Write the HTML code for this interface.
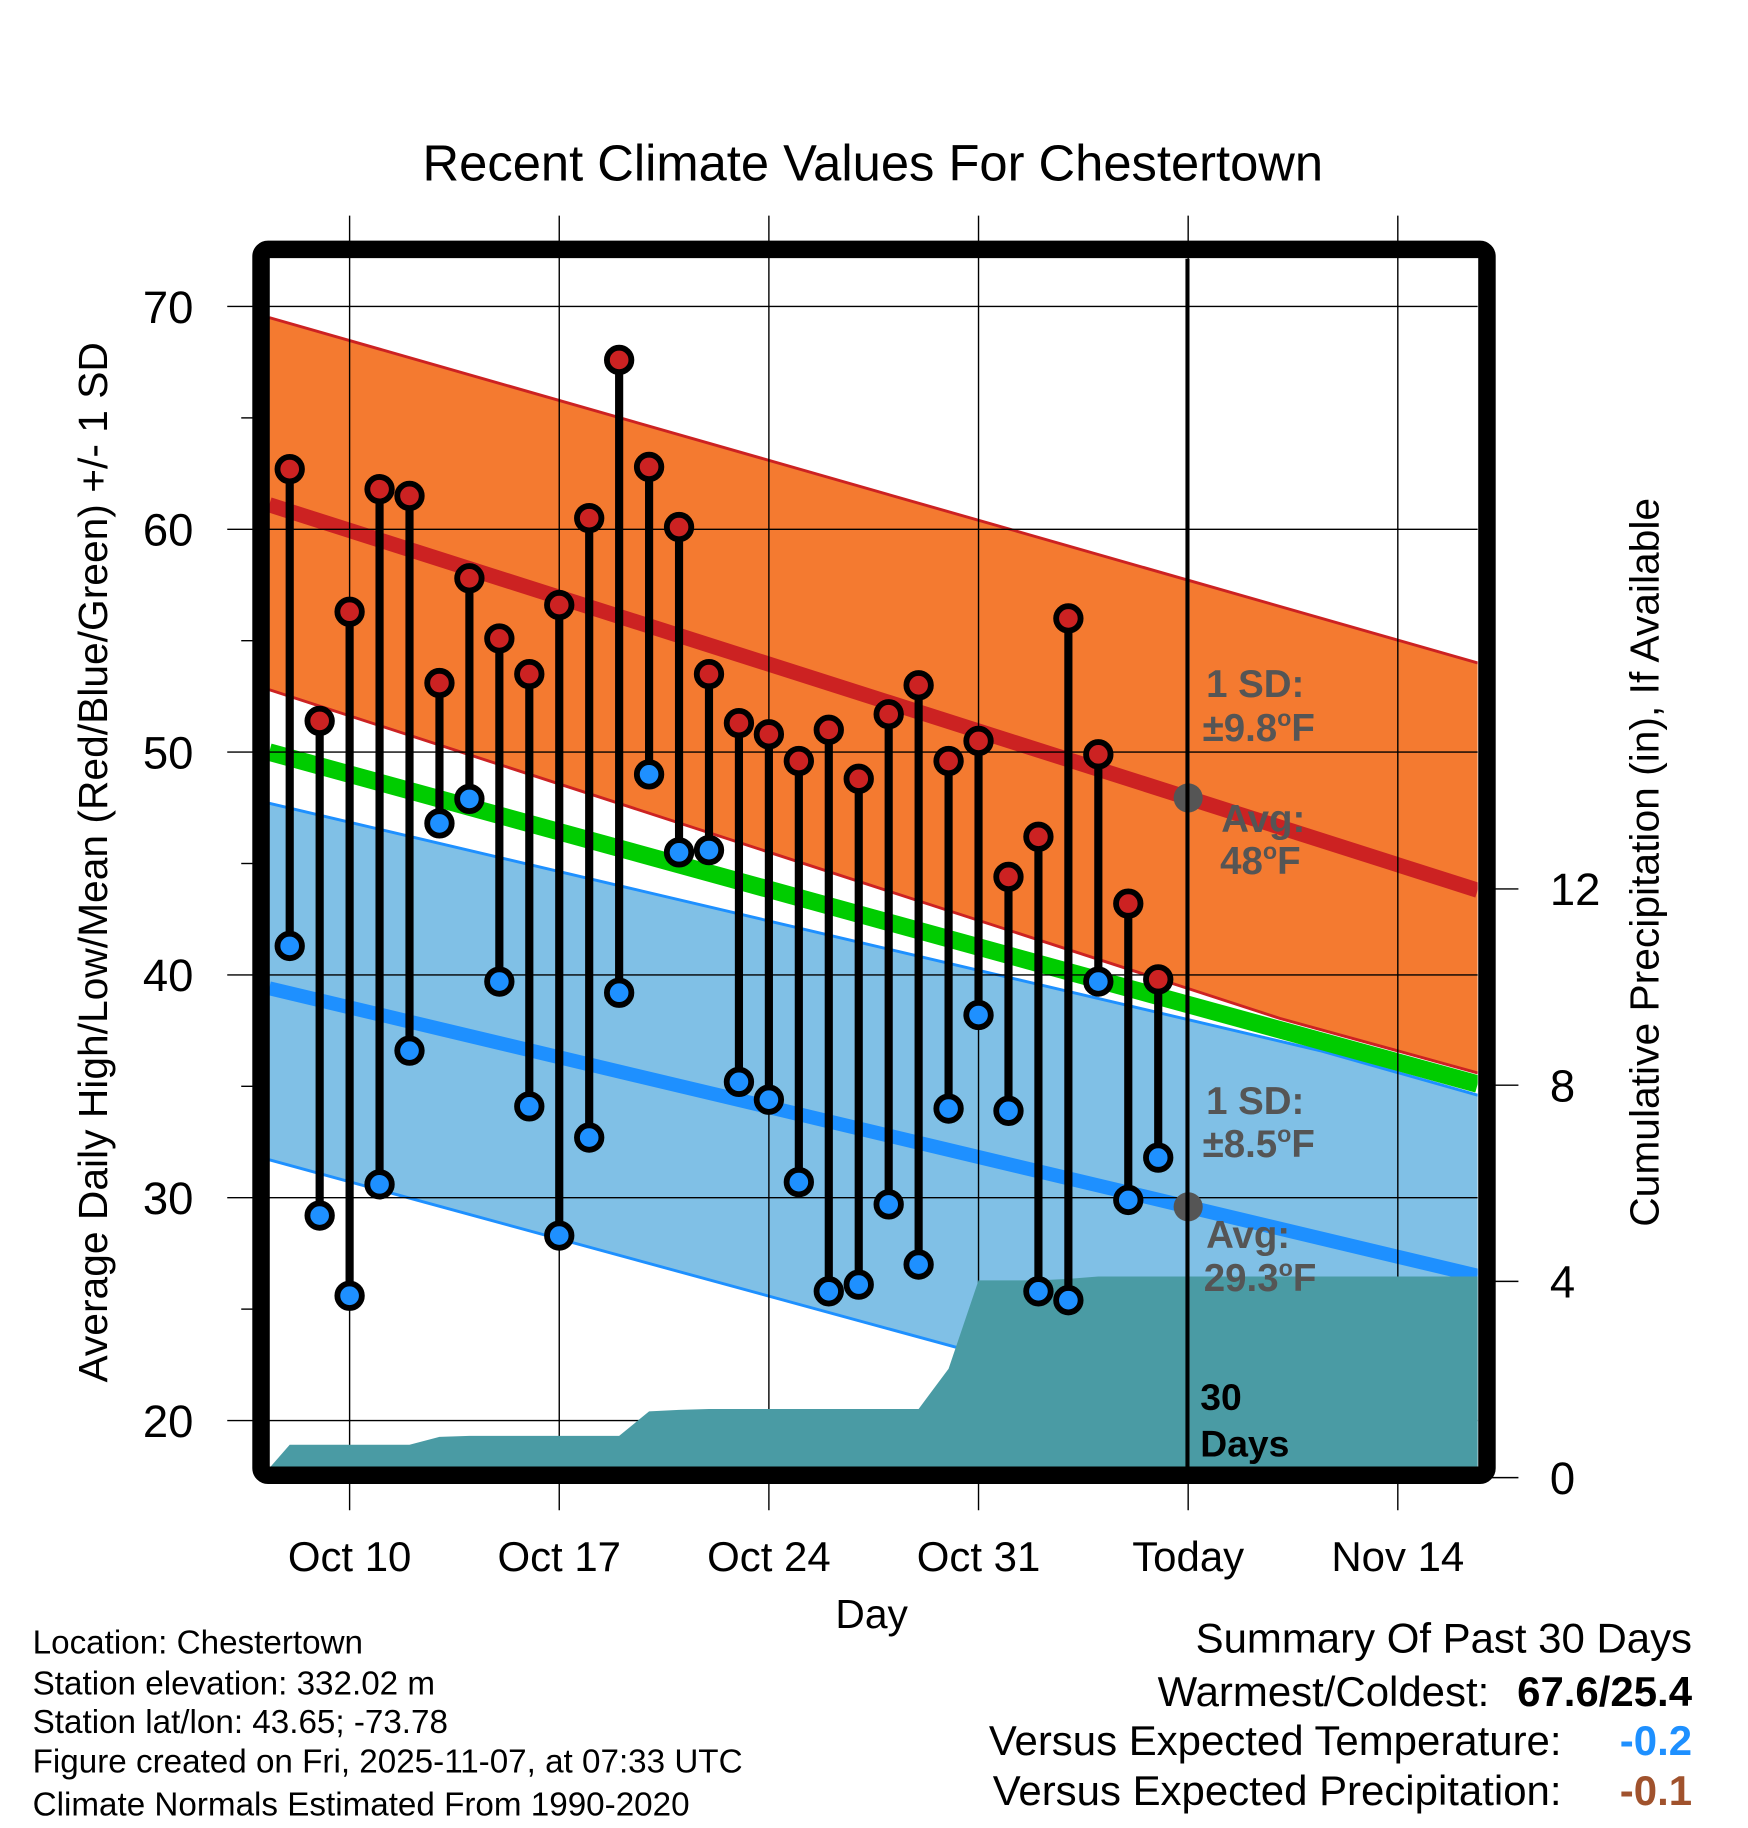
<!DOCTYPE html>
<html><head><meta charset="utf-8"><style>
html,body{margin:0;padding:0;background:#fff;}
svg{display:block;font-family:"Liberation Sans",Arial,sans-serif;}
</style></head><body>
<svg id="chart" width="1748" height="1828" viewBox="0 0 1500 1568.67" xmlns="http://www.w3.org/2000/svg">
<defs><clipPath id="plotclip"><rect x="231" y="222" width="1037" height="1038"/></clipPath></defs>
<g id="bands" clip-path="url(#plotclip)"></g>
<g id="grid"></g>
<g id="precip"></g>
<g id="lines"></g>
<line x1="1019" y1="222" x2="1019" y2="1262" stroke="#000" stroke-width="3.5"/>
<g id="marks"></g>
<rect x="224" y="214" width="1052" height="1052" rx="6" fill="none" stroke="#000" stroke-width="15"/>
<g id="axes"></g>
<text x="749" y="155" font-size="43.5" text-anchor="middle">Recent Climate Values For Chestertown</text>
<text x="748" y="1397" font-size="35" text-anchor="middle">Day</text>
<text transform="translate(92,740) rotate(-90)" font-size="35" text-anchor="middle">Average Daily High/Low/Mean (Red/Blue/Green) +/- 1 SD</text>
<text transform="translate(1423,740) rotate(-90)" font-size="35" text-anchor="middle">Cumulative Precipitation (in), If Available</text>
<g font-size="33" font-weight="bold" fill="#555">
<text x="1035" y="598">1 SD:</text>
<text x="1032" y="636">±9.8<tspan font-size="20" dy="-13">o</tspan><tspan dy="13">F</tspan></text>
<text x="1048" y="714">Avg:</text>
<text x="1047" y="750">48<tspan font-size="20" dy="-13">o</tspan><tspan dy="13">F</tspan></text>
<text x="1035" y="956">1 SD:</text>
<text x="1032" y="993">±8.5<tspan font-size="20" dy="-13">o</tspan><tspan dy="13">F</tspan></text>
<text x="1035" y="1071">Avg:</text>
<text x="1033" y="1108">29.3<tspan font-size="20" dy="-13">o</tspan><tspan dy="13">F</tspan></text>
</g>
<g font-size="32" font-weight="bold" fill="#000">
<text x="1030" y="1210">30</text><text x="1030" y="1250">Days</text>
</g>
<g font-size="28.5">
<text x="28" y="1419">Location: Chestertown</text>
<text x="28" y="1454">Station elevation: 332.02 m</text>
<text x="28" y="1487">Station lat/lon: 43.65; -73.78</text>
<text x="28" y="1521">Figure created on Fri, 2025-11-07, at 07:33 UTC</text>
<text x="28" y="1558">Climate Normals Estimated From 1990-2020</text>
</g>
<g font-size="36">
<text x="1452" y="1418" text-anchor="end">Summary Of Past 30 Days</text>
<text x="1278" y="1464" text-anchor="end">Warmest/Coldest:</text>
<text x="1452" y="1464" text-anchor="end" font-weight="bold">67.6/25.4</text>
<text x="1340" y="1506" text-anchor="end">Versus Expected Temperature:</text>
<text x="1452" y="1506" text-anchor="end" font-weight="bold" fill="#1e90ff">-0.2</text>
<text x="1340" y="1549" text-anchor="end">Versus Expected Precipitation:</text>
<text x="1452" y="1549" text-anchor="end" font-weight="bold" fill="#a0522d">-0.1</text>
</g>
</svg>
<script>
const highs=[62.7,51.4,56.3,61.8,61.5,53.1,57.8,55.1,53.5,56.6,60.5,67.6,62.8,60.1,53.5,51.3,50.8,49.6,51.0,48.8,51.7,53.0,49.6,50.5,44.4,46.2,56.0,49.9,43.2,39.8];
const lows=[41.3,29.2,25.6,30.6,36.6,46.8,47.9,39.7,34.1,28.3,32.7,39.2,49.0,45.5,45.6,35.2,34.4,30.7,25.8,26.1,29.7,27.0,34.0,38.2,33.9,25.8,25.4,39.7,29.9,31.8];
const precipCum=[0.67,0.67,0.67,0.67,0.67,0.83,0.85,0.85,0.85,0.85,0.85,0.85,1.35,1.38,1.40,1.40,1.40,1.40,1.40,1.40,1.40,1.40,2.22,4.02,4.02,4.02,4.05,4.10,4.10,4.10];
// normals: [value at left edge, value at right edge]
const normHigh=[61.1,43.8], normHighUp=[69.5,54.0];
const normLow=[39.4,26.5], normLowLo=[31.7,16.9];
const normMean=[50.0,35.1];
// inner band edges meet the mean line: [left, bend, right] at days bendDays
const normHighLo=[52.8,38.05,35.6], highLoDays=[-2.68,31.06,37.67];
const normLowUp=[47.7,36.6,34.6], lowUpDays=[-2.68,32.4,37.67];
const xTickLabels=["Oct 10","Oct 17","Oct 24","Oct 31","Today","Nov 14"];
const xTickDays=[0,7,14,21,28,35];
const yTicks=[70,60,50,40,30,20];
const y2Ticks=[0,4,8,12];

const NS="http://www.w3.org/2000/svg";
const L=231,R=1268,T=222,B=1260;
const xd=d=>300+25.7*d;
const yT=v=>263+(70-v)*19.12;
const yP=v=>1268-v*42.1;
function mk(tag,attrs,parent){const e=document.createElementNS(NS,tag);for(const k in attrs)e.setAttribute(k,attrs[k]);parent.appendChild(e);return e;}
const bands=document.getElementById('bands'),grid=document.getElementById('grid'),pr=document.getElementById('precip'),lines=document.getElementById('lines'),marks=document.getElementById('marks'),axes=document.getElementById('axes');
function edgePts(vals,days){return vals.map((v,i)=>[xd(days[i]),yT(v)]);}
const LR=[-2.68,37.67];
function band(topP,botP,fill,stroke,name){
  const all=topP.concat(botP.slice().reverse());
  const p=mk('polygon',{points:all.map(q=>q.join(',')).join(' '),fill:fill},bands);
  
  
  [topP,botP].forEach(a=>{const l=mk('polyline',{points:a.map(q=>q.join(',')).join(' '),fill:'none',stroke:stroke,'stroke-width':2.5},bands);
    
    });
}
band(edgePts(normHighUp,LR),edgePts(normHighLo,highLoDays),'#f47a30','#cc2222','high-sd-band');
band(edgePts(normLowUp,lowUpDays),edgePts(normLowLo,LR),'#80c0e6','#1e90ff','low-sd-band');
function nline(a,c,w,name){const l=mk('line',{x1:L,y1:yT(a[0]),x2:R,y2:yT(a[1]),stroke:c,'stroke-width':w},bands);
  
  }
nline(normMean,'#00cc00',15,'mean-normal-line');
nline(normHigh,'#cc2222',13,'high-normal-line');
nline(normLow,'#1e90ff',12,'low-normal-line');
yTicks.forEach((v,i)=>{const l=mk('line',{x1:195,y1:yT(v),x2:R,y2:yT(v),stroke:'#000','stroke-width':1.2},grid);
  
  
  const t=mk('text',{x:166,y:yT(v)+14,'font-size':39,'text-anchor':'end'},axes);t.textContent=v;
  
  
  if(v>20){const m=mk('line',{x1:207,y1:yT(v-5),x2:217,y2:yT(v-5),stroke:'#000','stroke-width':1.2},axes);
    
    }
});
xTickDays.forEach((d,i)=>{const l=mk('line',{x1:xd(d),y1:185,x2:xd(d),y2:1296,stroke:'#000','stroke-width':1.2},grid);
  
  
  const t=mk('text',{x:xd(d),y:1348,'font-size':36,'text-anchor':'middle'},axes);t.textContent=xTickLabels[i];
  
  
});
y2Ticks.forEach(v=>{const l=mk('line',{x1:1280,y1:yP(v),x2:1303,y2:yP(v),stroke:'#000','stroke-width':1.2},axes);
  
  
  const t=mk('text',{x:1330,y:yP(v)+14,'font-size':39},axes);t.textContent=v;
  
  
});
let pts=`${L},${B} `;
precipCum.forEach((v,i)=>{pts+=`${xd(i-2)},${yP(v)} `;});
pts+=`${R},${yP(precipCum[precipCum.length-1])} ${R},${B}`;
const pa=mk('polygon',{points:pts,fill:'#4a9ba4'},pr);


const todayX=xd(28);
[normHigh,normLow].forEach((n,i)=>{const v=n[0]+(n[1]-n[0])*(todayX-L)/(R-L);
  const c=mk('circle',{cx:todayX,cy:yT(v),r:12.5,fill:'#555'},lines);
  
  });
highs.forEach((h,i)=>{const x=xd(i-2),lo=lows[i];
  const s=mk('line',{x1:x,y1:yT(h),x2:x,y2:yT(lo),stroke:'#000','stroke-width':7},marks);
  
  
  const ch=mk('circle',{cx:x,cy:yT(h),r:10.5,fill:'#cc2222',stroke:'#000','stroke-width':5},marks);
  
  
  const cl=mk('circle',{cx:x,cy:yT(lo),r:10.5,fill:'#1e90ff',stroke:'#000','stroke-width':5},marks);
  
  
});
</script>
</body></html>
